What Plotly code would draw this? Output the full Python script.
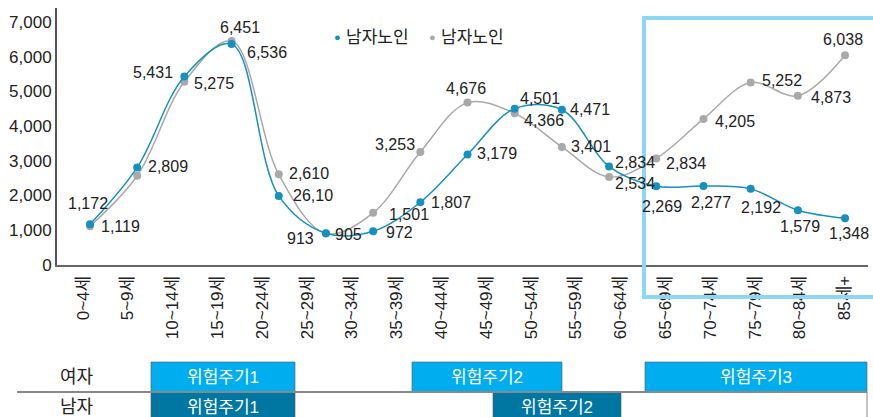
import plotly.graph_objects as go

# ---------------- data ----------------
age_labels = ["0~4세", "5~9세", "10~14세", "15~19세", "20~24세", "25~29세",
              "30~34세", "35~39세", "40~44세", "45~49세", "50~54세", "55~59세",
              "60~64세", "65~69세", "70~74세", "75~79세", "80~84세", "85세+"]

series_names = ["남자노인", "남자노인"]

blue_values = [1172, 2809, 5431, 6360, 1990, 913, 972, 1807, 3179, 4501,
               4471, 2834, 2269, 2277, 2192, 1579, 1348]
blue_labels = ["1,172", "2,809", "5,431", "6,536", "26,10", "913", "972", "1,807",
               "3,179", "4,501", "4,471", "2,834", "2,269", "2,277", "2,192",
               "1,579", "1,348"]

gray_values = [1119, 2570, 5275, 6451, 2610, 905, 1501, 3253, 4676, 4366,
               3401, 2534, 3070, 4205, 5252, 4873, 6038]
gray_labels = ["1,119", "", "5,275", "6,451", "2,610", "905", "1,501", "3,253",
               "4,676", "4,366", "3,401", "2,534", "2,834", "4,205", "5,252",
               "4,873", "6,038"]

y_ticks = [0, 1000, 2000, 3000, 4000, 5000, 6000, 7000]

row_labels = ["여자", "남자"]
female_periods = ["위험주기1", "위험주기2", "위험주기3"]
male_periods = ["위험주기1", "위험주기2"]

# ---------------- styles / layout geometry ----------------
W, H = 873, 417
ML, MR, MT, MB = 57, 5, 8, 152
PLOT_W = W - ML - MR
PLOT_H = H - MT - MB
Y0_PX = H - MB

BLUE = "#1691bd"
GRAY = "#a9a9a9"
TXT = "#222222"
FONT = "Liberation Sans, Noto Sans CJK KR, sans-serif"


def px_x(px):
    return (px - ML) / PLOT_W


def px_y(py):
    return (Y0_PX - py) / PLOT_H


# point index -> pixel: 90 + 47.19*i ; x range chosen so that holds
PT0, PT_STEP = 90.0, 47.19
x_range = [(ML - PT0) / PT_STEP, (W - MR - PT0) / PT_STEP]
# tick labels are spaced slightly tighter than the points in the original
LAB0, LAB_STEP = 83.0, 44.8
tick_vals = [(LAB0 + LAB_STEP * j - PT0) / PT_STEP for j in range(len(age_labels))]

blue_off = [(-2, -21), (31, -1), (-31, -4), (35, 8), (34, 0), (-25, 5), (26, 1),
            (31, 0), (29, -1), (25, -10), (28, 0), (26, -4), (6, 20), (8, 17),
            (10, 19), (2, 16), (4, 15)]
gray_off = [(30, 0), (0, 0), (30, 2), (8, -13), (30, -1), (23, 1), (36, 2),
            (-25, -8), (-2, -14), (29, 7), (29, 0), (26, 7), (30, 5), (32, 3),
            (31, -2), (33, 2), (-2, -16)]

xs = list(range(len(blue_values)))

fig = go.Figure()
fig.add_trace(go.Scatter(
    x=xs, y=gray_values, mode="lines+markers", name=series_names[1],
    line=dict(color=GRAY, width=1.5, shape="spline", smoothing=1.0),
    marker=dict(color=GRAY, size=8), showlegend=False, hoverinfo="skip"))
fig.add_trace(go.Scatter(
    x=xs, y=blue_values, mode="lines+markers", name=series_names[0],
    line=dict(color=BLUE, width=1.5, shape="spline", smoothing=1.0),
    marker=dict(color=BLUE, size=8), showlegend=False, hoverinfo="skip"))

annotations = []
for vals, labs, offs in ((blue_values, blue_labels, blue_off),
                         (gray_values, gray_labels, gray_off)):
    for i, (v, t, (dx, dy)) in enumerate(zip(vals, labs, offs)):
        if not t:
            continue
        annotations.append(dict(x=i, y=v, xref="x", yref="y", text=t,
                                showarrow=False, xshift=dx, yshift=-dy,
                                xanchor="center", yanchor="middle",
                                font=dict(size=16, color=TXT, family=FONT)))

# legend (dot + text)
for cx, col, name in ((337, BLUE, series_names[0]), (432, GRAY, series_names[1])):
    annotations.append(dict(x=px_x(cx), y=px_y(37), xref="paper", yref="paper",
                            text="●", showarrow=False, xanchor="center",
                            yanchor="middle",
                            font=dict(size=11, color=col, family=FONT)))
    annotations.append(dict(x=px_x(cx + 7), y=px_y(37), xref="paper", yref="paper",
                            text=name, showarrow=False, xanchor="left",
                            yanchor="middle",
                            font=dict(size=17, color=TXT, family=FONT)))

shapes = []
# highlight box
shapes.append(dict(type="rect", xref="paper", yref="paper",
                   x0=px_x(644), x1=px_x(885), y0=px_y(297), y1=px_y(18),
                   line=dict(color="#8dd6f4", width=4), layer="above"))

# bottom table
F_TOP, F_BOT, M_BOT = 362, 392, 425
F_COL, M_COL = "#00aeef", "#0077a3"
female_spans = [(151, 295), (412, 562), (645, 867)]
male_spans = [(151, 295), (493, 621)]
for (a, b), lab in zip(female_spans, female_periods):
    shapes.append(dict(type="rect", xref="paper", yref="paper",
                       x0=px_x(a), x1=px_x(b), y0=px_y(F_BOT), y1=px_y(F_TOP),
                       fillcolor=F_COL, line=dict(width=0.6, color="#555555")))
    annotations.append(dict(x=px_x((a + b) / 2), y=px_y((F_TOP + F_BOT) / 2),
                            xref="paper", yref="paper", text=lab, showarrow=False,
                            xanchor="center", yanchor="middle",
                            font=dict(size=17, color="white", family=FONT)))
for (a, b), lab in zip(male_spans, male_periods):
    shapes.append(dict(type="rect", xref="paper", yref="paper",
                       x0=px_x(a), x1=px_x(b), y0=px_y(M_BOT), y1=px_y(F_BOT),
                       fillcolor=M_COL, line=dict(width=0.6, color="#555555")))
    annotations.append(dict(x=px_x((a + b) / 2), y=px_y(407),
                            xref="paper", yref="paper", text=lab, showarrow=False,
                            xanchor="center", yanchor="middle",
                            font=dict(size=17, color="white", family=FONT)))
shapes.append(dict(type="line", xref="paper", yref="paper",
                   x0=px_x(17), x1=px_x(867), y0=px_y(F_BOT), y1=px_y(F_BOT),
                   line=dict(color="#888888", width=2)))
shapes.append(dict(type="line", xref="paper", yref="paper",
                   x0=px_x(867), x1=px_x(867), y0=px_y(F_BOT), y1=px_y(420),
                   line=dict(color="#888888", width=1)))
for lab, cy in zip(row_labels, (377, 407)):
    annotations.append(dict(x=px_x(77), y=px_y(cy), xref="paper", yref="paper",
                            text=lab, showarrow=False,
                            xanchor="center", yanchor="middle",
                            font=dict(size=18, color=TXT, family=FONT)))

fig.update_layout(
    width=W, height=H,
    margin=dict(l=ML, r=MR, t=MT, b=MB, autoexpand=False),
    paper_bgcolor="white", plot_bgcolor="white",
    font=dict(family=FONT, color=TXT, size=16),
    showlegend=False,
    xaxis=dict(range=x_range, tickmode="array", tickvals=tick_vals,
               ticktext=age_labels, tickangle=-90, showgrid=False,
               zeroline=False, showline=True, linecolor="#666666", linewidth=2,
               ticks="", automargin=False, ticklabelstandoff=2,
               tickfont=dict(size=17, color=TXT, family=FONT)),
    yaxis=dict(range=[0, 7400], tickmode="array", tickvals=y_ticks,
               tickformat=",", showgrid=False, zeroline=False, showline=True,
               linecolor="#555555", linewidth=2, ticks="", automargin=False,
               tickfont=dict(size=17, color=TXT, family=FONT)),
    annotations=annotations,
    shapes=shapes,
)

fig.write_html(
    "out.html",
    config={"displayModeBar": False},
    post_script="document.body.style.margin='0px';"
                "document.body.style.overflow='hidden';",
)
